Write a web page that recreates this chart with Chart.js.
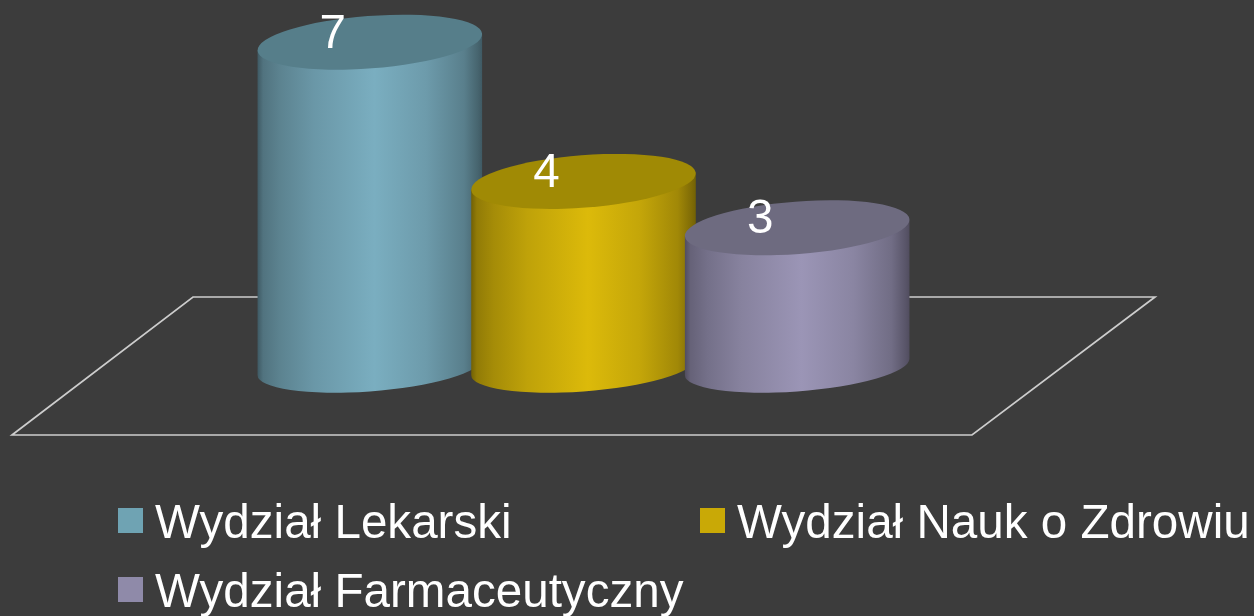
<!DOCTYPE html>
<html lang="pl">
<head>
<meta charset="utf-8">
<style>html,body{margin:0;padding:0;background:#3c3c3c}canvas{display:block}</style>
<script src="https://cdn.jsdelivr.net/npm/chart.js@4"></script>
</head>
<body>
<canvas id="c" width="1254" height="616"></canvas>
<script>
const categories = ['Wydział Lekarski', 'Wydział Nauk o Zdrowiu', 'Wydział Farmaceutyczny'];
const values = [7, 4, 3];
const peakColors = [[122, 174, 192], [220, 186, 10], [155, 149, 182]];
const topColors = ['#567e8a', '#a08a05', '#6e6b80'];
const swatchColors = ['#6fa3b3', '#c9a906', '#8f8aa9'];
const FONT = '"Liberation Sans", Arial, sans-serif';
const TEXT_SIZE = 47.6;
const TILT = 4.35 * Math.PI / 180;
const stops = [[0, .52], [.025, .66], [.1, .75], [.25, .87], [.52, 1], [.75, .89], [.92, .73], [.98, .58], [1, .52]];
const floorPath = [[193, 297], [1155, 297], [972, 435], [12, 435]];
const legendSlots = [[118, 538], [700, 538], [118, 607]];

function shade(c, k) { return `rgb(${c.map(v => Math.round(v * k)).join(',')})`; }

function extremes(a, b) {
  const t0 = Math.atan2(b * Math.sin(TILT), a * Math.cos(TILT));
  return {
    t0,
    dx: a * Math.cos(t0) * Math.cos(TILT) + b * Math.sin(t0) * Math.sin(TILT),
    dy: -a * Math.cos(t0) * Math.sin(TILT) + b * Math.sin(t0) * Math.cos(TILT)
  };
}

const cylinders = {
  id: 'cylinders',
  beforeDatasetsDraw(chart) {
    const ctx = chart.ctx;
    ctx.save();
    ctx.strokeStyle = '#cdcdcd';
    ctx.lineWidth = 1.7;
    ctx.beginPath();
    floorPath.forEach((p, i) => i ? ctx.lineTo(p[0], p[1]) : ctx.moveTo(p[0], p[1]));
    ctx.closePath();
    ctx.stroke();
    ctx.restore();
  },
  beforeDatasetDraw(chart, args) {
    const ctx = chart.ctx;
    const meta = chart.getDatasetMeta(args.index);
    meta.data.forEach((bar, i) => {
      const a = bar.width / 2;
      const bTop = bar.width * 0.1165, bBase = bar.width * 0.108;
      const top = extremes(a, bTop), low = extremes(a, bBase);
      const g = ctx.createLinearGradient(bar.x - top.dx, 0, bar.x + top.dx, 0);
      stops.forEach(s => g.addColorStop(s[0], shade(peakColors[i], s[1])));
      ctx.save();
      ctx.fillStyle = g;
      ctx.beginPath();
      ctx.ellipse(bar.x, bar.base, a, bBase, -TILT, low.t0, low.t0 + Math.PI, false);
      ctx.lineTo(bar.x - top.dx, bar.y - top.dy);
      ctx.lineTo(bar.x + top.dx, bar.y + top.dy);
      ctx.closePath();
      ctx.fill();
      ctx.fillStyle = topColors[i];
      ctx.beginPath();
      ctx.ellipse(bar.x, bar.y, a, bTop, -TILT, 0, Math.PI * 2);
      ctx.fill();
      ctx.restore();
    });
    return false;
  },
  afterDatasetsDraw(chart) {
    const ctx = chart.ctx;
    const meta = chart.getDatasetMeta(0);
    ctx.save();
    ctx.fillStyle = '#ffffff';
    ctx.font = `${TEXT_SIZE}px ${FONT}`;
    ctx.textBaseline = 'alphabetic';
    ctx.textAlign = 'center';
    meta.data.forEach((bar, i) => ctx.fillText(String(values[i]), bar.x - 37, bar.y + 5.5));
    ctx.textAlign = 'left';
    categories.forEach((name, i) => {
      const [x, y] = legendSlots[i];
      ctx.fillStyle = swatchColors[i];
      ctx.fillRect(x, y - 30, 25, 25);
      ctx.fillStyle = '#ffffff';
      ctx.fillText(name, x + 37, y);
    });
    ctx.restore();
  }
};

new Chart(document.getElementById('c'), {
  type: 'bar',
  data: {
    labels: categories,
    datasets: [{ data: values, backgroundColor: swatchColors, categoryPercentage: 1, barPercentage: 225 / 213.5 }]
  },
  options: {
    responsive: false,
    animation: false,
    layout: { padding: { left: 263, right: 350, top: 19, bottom: 249 } },
    plugins: { legend: { display: false }, tooltip: { enabled: false } },
    scales: {
      x: { display: false },
      y: { display: false, min: 0, max: 7.5 }
    }
  },
  plugins: [cylinders, { id: 'bg', beforeDraw(chart) { chart.ctx.save(); chart.ctx.fillStyle = '#3c3c3c'; chart.ctx.fillRect(0, 0, chart.width, chart.height); chart.ctx.restore(); } }]
});
</script>
</body>
</html>
